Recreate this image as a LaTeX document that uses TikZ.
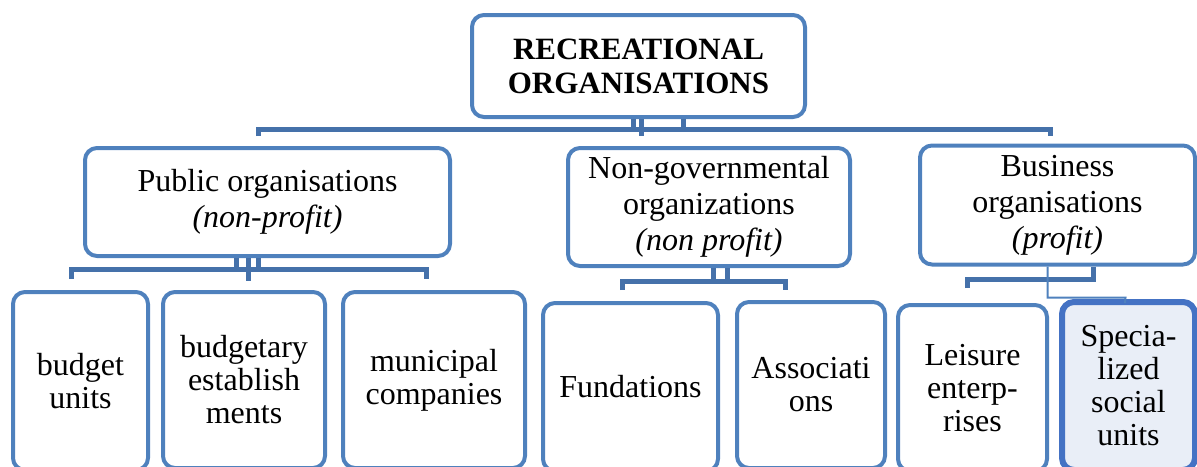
\documentclass[tikz,border=0pt]{standalone}
\usepackage{fontspec}
\setmainfont{Liberation Serif}
\usetikzlibrary{positioning,calc}
\definecolor{boxblue}{HTML}{4F81BD}
\definecolor{linkblue}{HTML}{4571AA}
\definecolor{softfill}{HTML}{E9EEF7}
\definecolor{deepblue}{HTML}{4472C4}
\tikzset{
  orgbox/.style={draw=boxblue, line width=4pt, rounded corners=12pt, align=center,
    inner sep=0pt, font=\fontsize{32}{33}\selectfont},
  midbox/.style={orgbox, font=\fontsize{32}{36}\selectfont},
  link/.style={draw=linkblue, line width=5pt},
  thinlink/.style={draw=boxblue, line width=2pt},
}

\begin{document}
\begin{tikzpicture}[x=1pt,y=-1pt]
\useasboundingbox (0,0) rectangle (1197,466);

% top level
\node[orgbox, minimum width=333, minimum height=102,
  font=\bfseries\fontsize{31}{34}\selectfont] (top) at (638.5,66) {RECREATIONAL\\ORGANISATIONS};

% second level
\node[midbox, minimum width=365, minimum height=108] (pub) at (267.5,202)
  {Public organisations\\\textit{(non-profit)}};
\node[midbox, minimum width=282, minimum height=118] (ngo) at (709,207)
  {Non-governmental\\organizations\\\textit{(non profit)}};
\node[midbox, minimum width=275, minimum height=119] (biz) at (1057.5,205)
  {Business\\organisations\\\textit{(profit)}};

% third level
\node[orgbox, minimum width=135, minimum height=178] (budget) at (80.5,381) {budget\\units};
\node[orgbox, minimum width=162, minimum height=176] (estab) at (244,380) {budgetary\\establish\\ments};
\node[orgbox, minimum width=182, minimum height=176] (munic) at (434,380) {municipal\\companies};
\node[orgbox, minimum width=175, minimum height=168] (fund) at (630.5,387) {Fundations};
\node[orgbox, minimum width=148, minimum height=166] (assoc) at (811,385) {Associati\\ons};
\node[orgbox, minimum width=149, minimum height=166] (leis) at (972.5,388) {Leisure\\enterp-\\rises};
\node[orgbox, draw=deepblue, line width=6pt, fill=softfill, minimum width=133, minimum height=168]
  (spec) at (1128.5,386) {Specia-\\lized\\social\\units};

% brackets
\coordinate (topL) at (258,136);
\coordinate (topR) at (1050,136);
\draw[link] (topL) -- ++(0,-7) -| (topR);
\draw[link] ([xshift=-5pt]top.south) -- ++(0,12);
\draw[link] ([xshift=3pt]top.south) -- ++(0,17);
\draw[link] ([xshift=45pt]top.south) -- ++(0,12);

\coordinate (pubL) at (71,279);
\coordinate (pubR) at (426,279);
\draw[link] (pubL) -- ++(0,-10) -| (pubR);
\draw[link] ([xshift=-31pt]pub.south) -- ++(0,13);
\draw[link] ([xshift=-9pt]pub.south) -- ++(0,13);
\draw[link] ([xshift=-19pt]pub.south) -- ++(0,23);

\coordinate (ngoL) at (622,290);
\coordinate (ngoR) at (785,290);
\draw[link] (ngoL) -- ++(0,-9) -| (ngoR);
\draw[link] ([xshift=4pt]ngo.south) -- ++(0,15);
\draw[link] ([xshift=18pt]ngo.south) -- ++(0,15);

\coordinate (bizL) at (967,288);
\coordinate (bizT) at (1125,303);
\draw[link] (bizL) -- ++(0,-9) -| ([xshift=36pt]biz.south);
\draw[thinlink] ([xshift=-10pt]biz.south) |- ++(78,31) -- (bizT);
\end{tikzpicture}
\end{document}
